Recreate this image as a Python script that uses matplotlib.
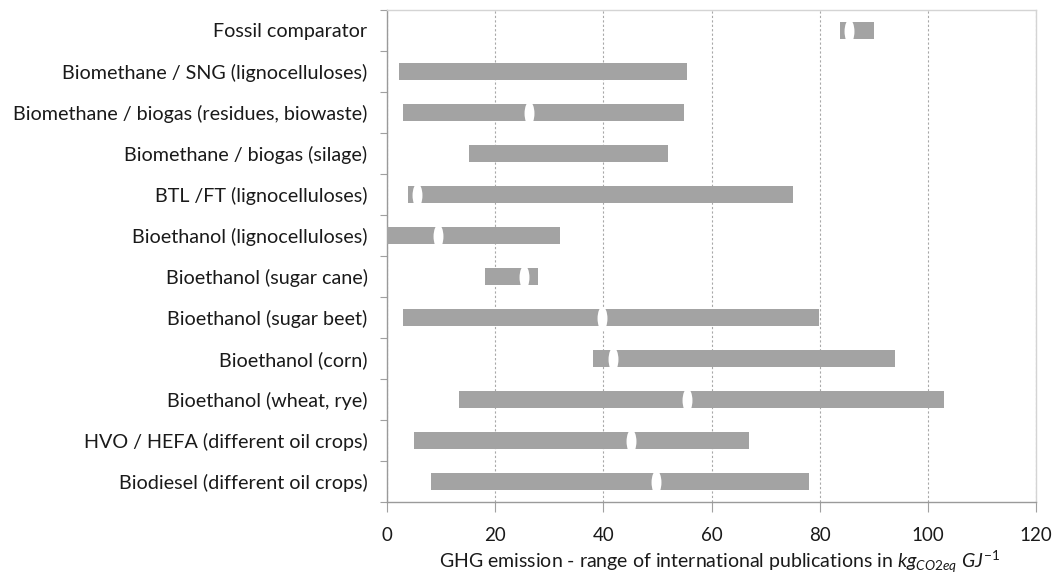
import matplotlib
matplotlib.use("Agg")
import matplotlib.pyplot as plt
from matplotlib.path import Path
from matplotlib.transforms import Affine2D
from matplotlib.ticker import FixedLocator
import numpy as np

categories = [
    "Fossil comparator",
    "Biomethane / SNG (lignocelluloses)",
    "Biomethane / biogas (residues, biowaste)",
    "Biomethane / biogas (silage)",
    "BTL /FT (lignocelluloses)",
    "Bioethanol (lignocelluloses)",
    "Bioethanol (sugar cane)",
    "Bioethanol (sugar beet)",
    "Bioethanol (corn)",
    "Bioethanol (wheat, rye)",
    "HVO / HEFA (different oil crops)",
    "Biodiesel (different oil crops)",
]
range_min = [83.7, 2.2, 3.0, 15.2, 3.9, 0.0, 18.1, 2.9, 38.0, 13.4, 5.0, 8.2]
range_max = [90.0, 55.5, 54.9, 51.9, 75.0, 32.0, 28.0, 79.8, 94.0, 103.0, 67.0, 78.0]
mid_marker = [85.4, np.nan, 26.2, np.nan, 5.6, 9.4, 25.3, 39.7, 41.7, 55.4, 45.2, 49.8]
x_ticks = [0, 20, 40, 60, 80, 100, 120]

plt.rcParams['font.family'] = ['Lato', 'DejaVu Sans']
plt.rcParams['mathtext.fontset'] = 'custom'
plt.rcParams['mathtext.rm'] = 'Lato'
plt.rcParams['mathtext.it'] = 'Lato:italic'

W, H = 1061, 573
fig = plt.figure(figsize=(W / 100, H / 100), dpi=100)
ax = fig.add_axes([387 / W, 1 - 502 / H, (1036 - 387) / W, (502 - 10) / H])

y = np.arange(len(categories))
lefts = np.array(range_min)
widths = np.array(range_max) - lefts
ax.barh(y, widths, left=lefts, height=0.41, color='#a3a3a3', zorder=3)

ell = Path.unit_circle().transformed(Affine2D().scale(0.42, 1.0))
ax.plot(mid_marker, y, linestyle='none', marker=ell, markersize=17,
        markerfacecolor='white', markeredgecolor='none', zorder=4)

ax.set_xlim(0, 120)
ax.set_ylim(len(categories) - 0.5, -0.5)
ax.set_xticks(x_ticks)
ax.set_xticklabels([str(t) for t in x_ticks])
ax.set_yticks(y)
ax.set_yticklabels(categories)
ax.yaxis.set_minor_locator(FixedLocator(np.arange(-0.5, len(categories), 1.0)))

ax.tick_params(axis='y', which='major', length=0, pad=14, labelsize=14.2, labelcolor='#1a1a1a')
ax.tick_params(axis='y', which='minor', length=5, width=0.8, color='#a0a0a0', direction='out')
ax.tick_params(axis='x', which='major', length=7, width=0.8, color='#a0a0a0', direction='out',
               pad=11, labelsize=13.5, labelcolor='#1a1a1a')

ax.xaxis.grid(True, linestyle=(0, (2.0, 2.0)), color='#a8a8a8', linewidth=0.8, zorder=0)
ax.set_axisbelow(True)

for s in ['left', 'bottom']:
    ax.spines[s].set_color('#9a9a9a')
    ax.spines[s].set_linewidth(1.0)
for s in ['top', 'right']:
    ax.spines[s].set_color('#d4d4d4')
    ax.spines[s].set_linewidth(1.0)

ax.set_xlabel(r"GHG emission - range of international publications in $\mathit{kg_{CO2eq}\ GJ^{-1}}$",
              fontsize=14, color='#1a1a1a')
ax.xaxis.set_label_coords(0.513, (502 - 562) / 492)
ax.xaxis.label.set_verticalalignment('center')

fig.savefig("out.png", dpi=100, facecolor='white')
